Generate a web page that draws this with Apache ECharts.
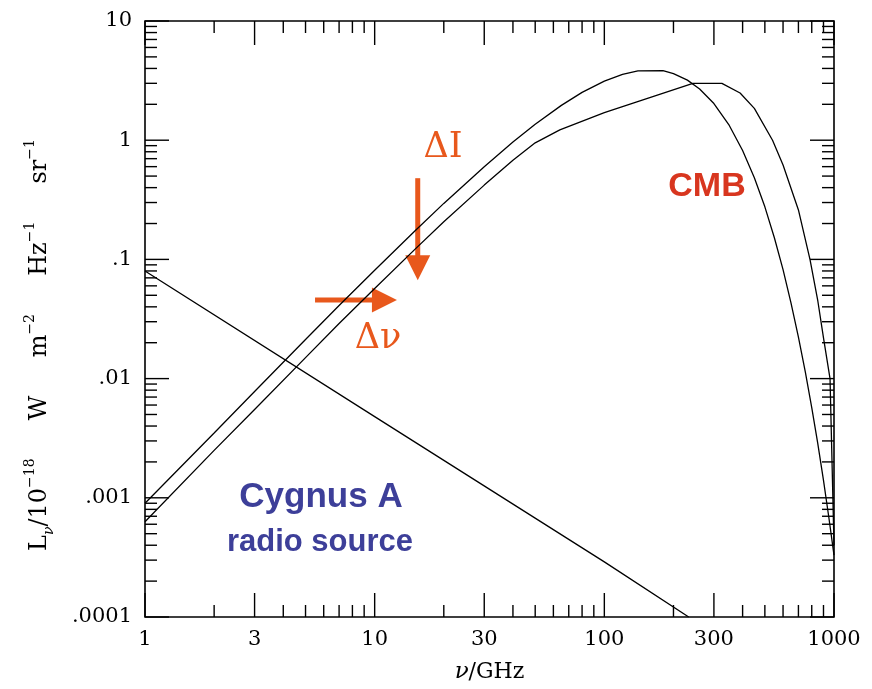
<!DOCTYPE html>
<html>
<head>
<meta charset="utf-8">
<script src="https://cdn.jsdelivr.net/npm/echarts@6/dist/echarts.min.js"></script>
<style>
  html, body { margin: 0; padding: 0; background: #fff; }
  #chart { width: 872px; height: 689px; }
</style>
</head>
<body>
<div id="chart"></div>
<script>
// Frequencies in GHz, intensities in units of 1e-18 W m^-2 Hz^-1 sr^-1
const freqBlackbody = [1, 2, 3, 5, 7, 10, 15, 20, 30, 40, 50, 65, 80, 100, 120, 140, 180, 200, 230, 260, 300, 350, 400, 450, 500, 550, 600, 650, 700, 750, 800, 850, 900, 950, 1000];
const cmbBlackbody  = [0.00090, 0.0035, 0.0078, 0.0213, 0.041, 0.081, 0.174, 0.295, 0.60, 0.965, 1.36, 1.96, 2.52, 3.13, 3.56, 3.82, 3.83, 3.62, 3.19, 2.69, 2.03, 1.33, 0.82, 0.485, 0.276, 0.152, 0.082, 0.043, 0.0223, 0.0114, 0.0057, 0.00285, 0.0014, 0.00068, 0.00033];

const freqDistorted = [1, 2, 3, 5, 7, 10, 15, 20, 30, 40, 50, 64, 100, 243, 325, 390, 450, 540, 600, 700, 786, 850, 900, 961, 1000];
const cmbDistorted  = [0.00063, 0.0025, 0.0055, 0.0150, 0.029, 0.057, 0.122, 0.207, 0.42, 0.68, 0.95, 1.22, 1.70, 3.0, 3.0, 2.49, 1.85, 1.0, 0.62, 0.26, 0.10, 0.045, 0.022, 0.010, 0.0004];

const freqCygnus = [1, 10, 100, 233];
const cygnusA    = [0.08, 0.0048, 0.00029, 0.0001];

// Axis ranges and tick marks
const X_MIN = 1, X_MAX = 1000, Y_MIN = 0.0001, Y_MAX = 10;
const xLabelValues = [1, 3, 10, 30, 100, 300, 1000];
const xTickLabels  = ['1', '3', '10', '30', '100', '300', '1000'];
const xMajorTicks  = [1, 3, 10, 30, 100, 300, 1000];
const xMinorTicks  = [2, 4, 5, 6, 7, 8, 9, 20, 40, 50, 60, 70, 80, 90, 200, 400, 500, 600, 700, 800, 900];
const yDecades     = [0.0001, 0.001, 0.01, 0.1, 1, 10];
const yTickLabels  = ['.0001', '.001', '.01', '.1', '1', '10'];
const yMinorSteps  = [2, 3, 4, 5, 6, 7, 8, 9];

// Annotation arrows: [x1, y1, x2, y2] in data units (tip at x2, y2)
const arrows = [
  [15.4, 0.48, 15.4, 0.067],
  [5.5, 0.0457, 12.5, 0.0457]
];

const MAJOR_LEN = 24, MINOR_LEN = 12;
const LABEL_FONT = '21px "DejaVu Serif"';
const ORANGE = '#E8581C';

const yMinorTicks = [];
yDecades.slice(0, -1).forEach(d => yMinorSteps.forEach(s => yMinorTicks.push(+(d * s).toPrecision(6))));

const xTickData = xMajorTicks.map(v => [v, 1, MAJOR_LEN]).concat(xMinorTicks.map(v => [v, 1, MINOR_LEN]));
const yTickData = yDecades.map(v => [1, v, MAJOR_LEN]).concat(yMinorTicks.map(v => [1, v, MINOR_LEN]));

function yLabel(v) {
  const e = Math.round(Math.log10(v));
  const i = yDecades.findIndex(d => Math.round(Math.log10(d)) === e);
  return i >= 0 ? yTickLabels[i] : '';
}

const tickStyle = { stroke: '#000', lineWidth: 1.4 };
const curveLine = { color: '#000', width: 1.3 };

const chart = echarts.init(document.getElementById('chart'), null, { renderer: 'canvas' });

chart.setOption({
  animation: false,
  backgroundColor: '#fff',
  grid: { left: 145, right: 38, top: 21, bottom: 72, show: true, borderColor: '#000', borderWidth: 1.6, backgroundColor: 'transparent' },
  xAxis: {
    type: 'log', logBase: 10, min: X_MIN, max: X_MAX,
    axisLine: { show: false }, axisTick: { show: false }, splitLine: { show: false },
    axisLabel: { show: false },
    name: '{i|ν}{n|/GHz}', nameLocation: 'middle', nameGap: 44,
    nameTextStyle: {
      rich: {
        i: { fontFamily: 'DejaVu Serif', fontStyle: 'italic', fontSize: 23, color: '#000' },
        n: { fontFamily: 'DejaVu Serif', fontSize: 22, color: '#000' }
      }
    }
  },
  yAxis: {
    type: 'log', logBase: 10, min: Y_MIN, max: Y_MAX, splitNumber: 5,
    axisLine: { show: false }, axisTick: { show: false }, splitLine: { show: false },
    axisLabel: { formatter: yLabel, margin: 13, fontFamily: 'DejaVu Serif', fontSize: 21, color: '#000' }
  },
  graphic: [
    {
      type: 'text', x: 40, y: 345, rotation: Math.PI / 2,
      style: {
        text: '{n|L}{sub|ν}{n|/10}{sup|−18}{n|     W     m}{sup|−2}{n|     Hz}{sup|−1}{n|     sr}{sup|−1}',
        align: 'center', verticalAlign: 'middle',
        rich: {
          n:   { font: '24px "DejaVu Serif"', fill: '#000', lineHeight: 33 },
          sup: { font: '14px "DejaVu Serif"', fill: '#000', verticalAlign: 'top' },
          sub: { font: 'italic 14px "DejaVu Serif"', fill: '#000', verticalAlign: 'bottom' }
        }
      }
    },
    { type: 'text', x: 443, y: 148, style: { text: 'ΔI', font: '35px "DejaVu Serif"', fill: ORANGE, align: 'center', verticalAlign: 'middle' } },
    { type: 'text', x: 378, y: 339, style: { text: 'Δν', font: '35px "DejaVu Serif"', fill: ORANGE, align: 'center', verticalAlign: 'middle' } },
    { type: 'text', x: 707, y: 187, style: { text: 'CMB', font: 'bold 34px "Liberation Sans"', fill: '#D8361F', align: 'center', verticalAlign: 'middle' } },
    { type: 'text', x: 321, y: 497, style: { text: 'Cygnus A', font: 'bold 35px "Liberation Sans"', fill: '#3D3F99', align: 'center', verticalAlign: 'middle' } },
    { type: 'text', x: 320, y: 542, style: { text: 'radio source', font: 'bold 31px "Liberation Sans"', fill: '#3D3F99', align: 'center', verticalAlign: 'middle' } }
  ],
  series: [
    {
      name: 'CMB blackbody', type: 'line', showSymbol: false, clip: true,
      lineStyle: curveLine,
      data: freqBlackbody.map((f, i) => [f, cmbBlackbody[i]])
    },
    {
      name: 'CMB distorted', type: 'line', showSymbol: false, clip: true,
      lineStyle: curveLine,
      data: freqDistorted.map((f, i) => [f, cmbDistorted[i]])
    },
    {
      name: 'Cygnus A', type: 'line', showSymbol: false, clip: true,
      lineStyle: curveLine,
      data: freqCygnus.map((f, i) => [f, cygnusA[i]])
    },
    {
      name: 'x ticks', type: 'custom', silent: true,
      encode: { x: 0, y: 1 },
      data: xTickData,
      renderItem(params, api) {
        const v = api.value(0), len = api.value(2);
        const b = api.coord([v, Y_MIN]), t = api.coord([v, Y_MAX]);
        return {
          type: 'group', children: [
            { type: 'line', shape: { x1: b[0], y1: b[1], x2: b[0], y2: b[1] - len }, style: tickStyle },
            { type: 'line', shape: { x1: t[0], y1: t[1], x2: t[0], y2: t[1] + len }, style: tickStyle }
          ]
        };
      }
    },
    {
      name: 'y ticks', type: 'custom', silent: true,
      encode: { x: 0, y: 1 },
      data: yTickData,
      renderItem(params, api) {
        const v = api.value(1), len = api.value(2);
        const l = api.coord([X_MIN, v]), r = api.coord([X_MAX, v]);
        return {
          type: 'group', children: [
            { type: 'line', shape: { x1: l[0], y1: l[1], x2: l[0] + len, y2: l[1] }, style: tickStyle },
            { type: 'line', shape: { x1: r[0], y1: r[1], x2: r[0] - len, y2: r[1] }, style: tickStyle }
          ]
        };
      }
    },
    {
      name: 'x labels', type: 'custom', silent: true,
      encode: { x: 0, y: 1 },
      data: xLabelValues.map(v => [v, 1]),
      renderItem(params, api) {
        const p = api.coord([api.value(0), Y_MIN]);
        return {
          type: 'text', x: p[0], y: p[1] + 23,
          style: { text: xTickLabels[params.dataIndex], font: LABEL_FONT, fill: '#000', align: 'center', verticalAlign: 'middle' }
        };
      }
    },
    {
      name: 'arrows', type: 'custom', silent: true,
      encode: { x: [0, 2], y: [1, 3] },
      data: arrows,
      renderItem(params, api) {
        const a = api.coord([api.value(0), api.value(1)]);
        const b = api.coord([api.value(2), api.value(3)]);
        const dx = b[0] - a[0], dy = b[1] - a[1];
        const L = Math.hypot(dx, dy), ux = dx / L, uy = dy / L;
        const head = 25, half = 12.5;
        const bx = b[0] - ux * head, by = b[1] - uy * head;
        return {
          type: 'group', children: [
            { type: 'line', shape: { x1: a[0], y1: a[1], x2: bx + ux * 2, y2: by + uy * 2 }, style: { stroke: ORANGE, lineWidth: 5 } },
            { type: 'polygon', shape: { points: [[b[0], b[1]], [bx - uy * half, by + ux * half], [bx + uy * half, by - ux * half]] }, style: { fill: ORANGE } }
          ]
        };
      }
    }
  ]
});
</script>
</body>
</html>
